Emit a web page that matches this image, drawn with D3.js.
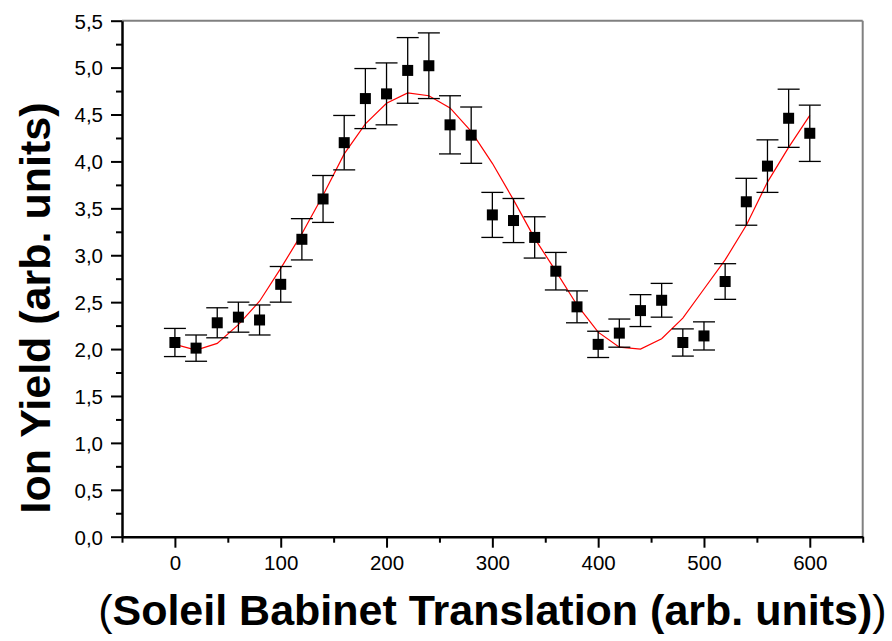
<!DOCTYPE html>
<html>
<head>
<meta charset="utf-8">
<script src="https://cdn.jsdelivr.net/npm/d3@7"></script>
<style>
  html, body { margin: 0; padding: 0; background: #fff; }
  svg { display: block; }
</style>
</head>
<body>
<svg id="chart" width="892" height="641"></svg>
<script>
// ---- data ----
const translation = [0,20,40,60,80,100,120,140,160,180,200,220,240,260,280,300,320,340,360,380,400,420,440,460,480,500,520,540,560,580,600];
const ionYield = [2.07,2.01,2.28,2.34,2.31,2.69,3.17,3.60,4.20,4.67,4.72,4.97,5.02,4.39,4.28,3.43,3.37,3.19,2.83,2.45,2.05,2.17,2.41,2.52,2.07,2.14,2.72,3.57,3.95,4.46,4.30];
const yieldError = [0.15,0.14,0.16,0.16,0.16,0.19,0.22,0.25,0.29,0.32,0.33,0.35,0.35,0.31,0.30,0.24,0.235,0.22,0.20,0.17,0.14,0.15,0.17,0.18,0.145,0.15,0.19,0.25,0.28,0.31,0.30];
const fitValues = [2.05,1.99,2.06,2.26,2.51,2.86,3.23,3.64,4.08,4.40,4.62,4.73,4.70,4.57,4.32,3.98,3.59,3.18,2.83,2.47,2.18,2.02,2.00,2.11,2.33,2.64,2.95,3.32,3.78,4.15,4.49];
const xMajorTicks = [0,100,200,300,400,500,600];
const xMinorTicks = [-50,50,150,250,350,450,550,650];
const yMajorTicks = [0,0.5,1,1.5,2,2.5,3,3.5,4,4.5,5,5.5];
const yMinorTicks = [0.25,0.75,1.25,1.75,2.25,2.75,3.25,3.75,4.25,4.75,5.25];
const xTitle = "Soleil Babinet Translation (arb. units)";
const yTitle = "Ion Yield (arb. units)";

// ---- layout ----
const L = 122, R = 862.7, T = 20.7, B = 536.7;
const svg = d3.select("#chart");
const x = d3.scaleLinear().domain([-50, 650]).range([L, R]);
const y = d3.scaleLinear().domain([0, 5.5]).range([B, T]);
const fmt = d => d3.format(".1f")(d).replace(".", ",");

// frame top / right (grey)
svg.append("line").attr("x1", L).attr("x2", R).attr("y1", T).attr("y2", T)
  .attr("stroke", "#808080").attr("stroke-width", 2);
svg.append("line").attr("x1", R).attr("x2", R).attr("y1", T).attr("y2", B)
  .attr("stroke", "#808080").attr("stroke-width", 2);

// x axis
const xAxis = svg.append("g").attr("transform", `translate(0,${B})`)
  .call(d3.axisBottom(x).tickValues(xMajorTicks).tickSize(11).tickSizeOuter(0).tickPadding(8).tickFormat(d3.format("d")));
const xMinor = svg.append("g").attr("transform", `translate(0,${B})`)
  .call(d3.axisBottom(x).tickValues(xMinorTicks).tickSize(6).tickSizeOuter(0).tickFormat(""));
xMinor.select(".domain").remove();

// y axis
const yAxis = svg.append("g").attr("transform", `translate(${L},0)`)
  .call(d3.axisLeft(y).tickValues(yMajorTicks).tickSize(11).tickSizeOuter(0).tickPadding(8).tickFormat(fmt));
const yMinor = svg.append("g").attr("transform", `translate(${L},0)`)
  .call(d3.axisLeft(y).tickValues(yMinorTicks).tickSize(6).tickSizeOuter(0).tickFormat(""));
yMinor.select(".domain").remove();

[xAxis, yAxis, xMinor, yMinor].forEach(g => {
  g.selectAll(".domain").attr("stroke", "#000").attr("stroke-width", 2.5);
  g.selectAll(".tick line").attr("stroke", "#000").attr("stroke-width", 2);
  g.selectAll(".tick text").attr("fill", "#000")
    .style("font-family", "'Liberation Sans', Arial, sans-serif").style("font-size", "20.5px");
});
xAxis.selectAll(".tick text").attr("dy", "0.71em");
yAxis.selectAll(".tick text").attr("dy", "0.36em");

// fit line
const pts = translation.map((t, i) => ({t, v: ionYield[i], e: yieldError[i], f: fitValues[i]}));
svg.append("path").datum(pts)
  .attr("d", d3.line().x(d => x(d.t)).y(d => y(d.f)))
  .attr("fill", "none").attr("stroke", "#ff0000").attr("stroke-width", 1.2);

// error bars
const eb = svg.append("g").attr("stroke", "#000").attr("stroke-width", 1.3);
const capW = 11;
eb.selectAll("line.v").data(pts).join("line").attr("class", "v")
  .attr("x1", d => x(d.t)).attr("x2", d => x(d.t))
  .attr("y1", d => y(d.v - d.e)).attr("y2", d => y(d.v + d.e));
eb.selectAll("line.top").data(pts).join("line").attr("class", "top")
  .attr("x1", d => x(d.t) - capW).attr("x2", d => x(d.t) + capW)
  .attr("y1", d => y(d.v + d.e)).attr("y2", d => y(d.v + d.e));
eb.selectAll("line.bot").data(pts).join("line").attr("class", "bot")
  .attr("x1", d => x(d.t) - capW).attr("x2", d => x(d.t) + capW)
  .attr("y1", d => y(d.v - d.e)).attr("y2", d => y(d.v - d.e));

// markers
const ms = 11;
svg.append("g").selectAll("rect").data(pts).join("rect")
  .attr("x", d => x(d.t) - ms / 2).attr("y", d => y(d.v) - ms / 2)
  .attr("width", ms).attr("height", ms).attr("fill", "#000");

// titles
const xt = svg.append("text").attr("x", (L + R) / 2).attr("y", 625)
  .attr("text-anchor", "middle")
  .style("font-family", "'Liberation Sans', Arial, sans-serif").style("font-size", "43px")
  .attr("fill", "#000");
xt.append("tspan").style("font-weight", "normal").text("(");
xt.append("tspan").style("font-weight", "bold").text(xTitle);
xt.append("tspan").style("font-weight", "normal").text(")");

svg.append("text")
  .attr("transform", `translate(50,308) rotate(-90)`)
  .attr("text-anchor", "middle")
  .style("font-family", "'Liberation Sans', Arial, sans-serif").style("font-size", "43px")
  .style("font-weight", "bold").attr("fill", "#000")
  .text(yTitle);
</script>
</body>
</html>
